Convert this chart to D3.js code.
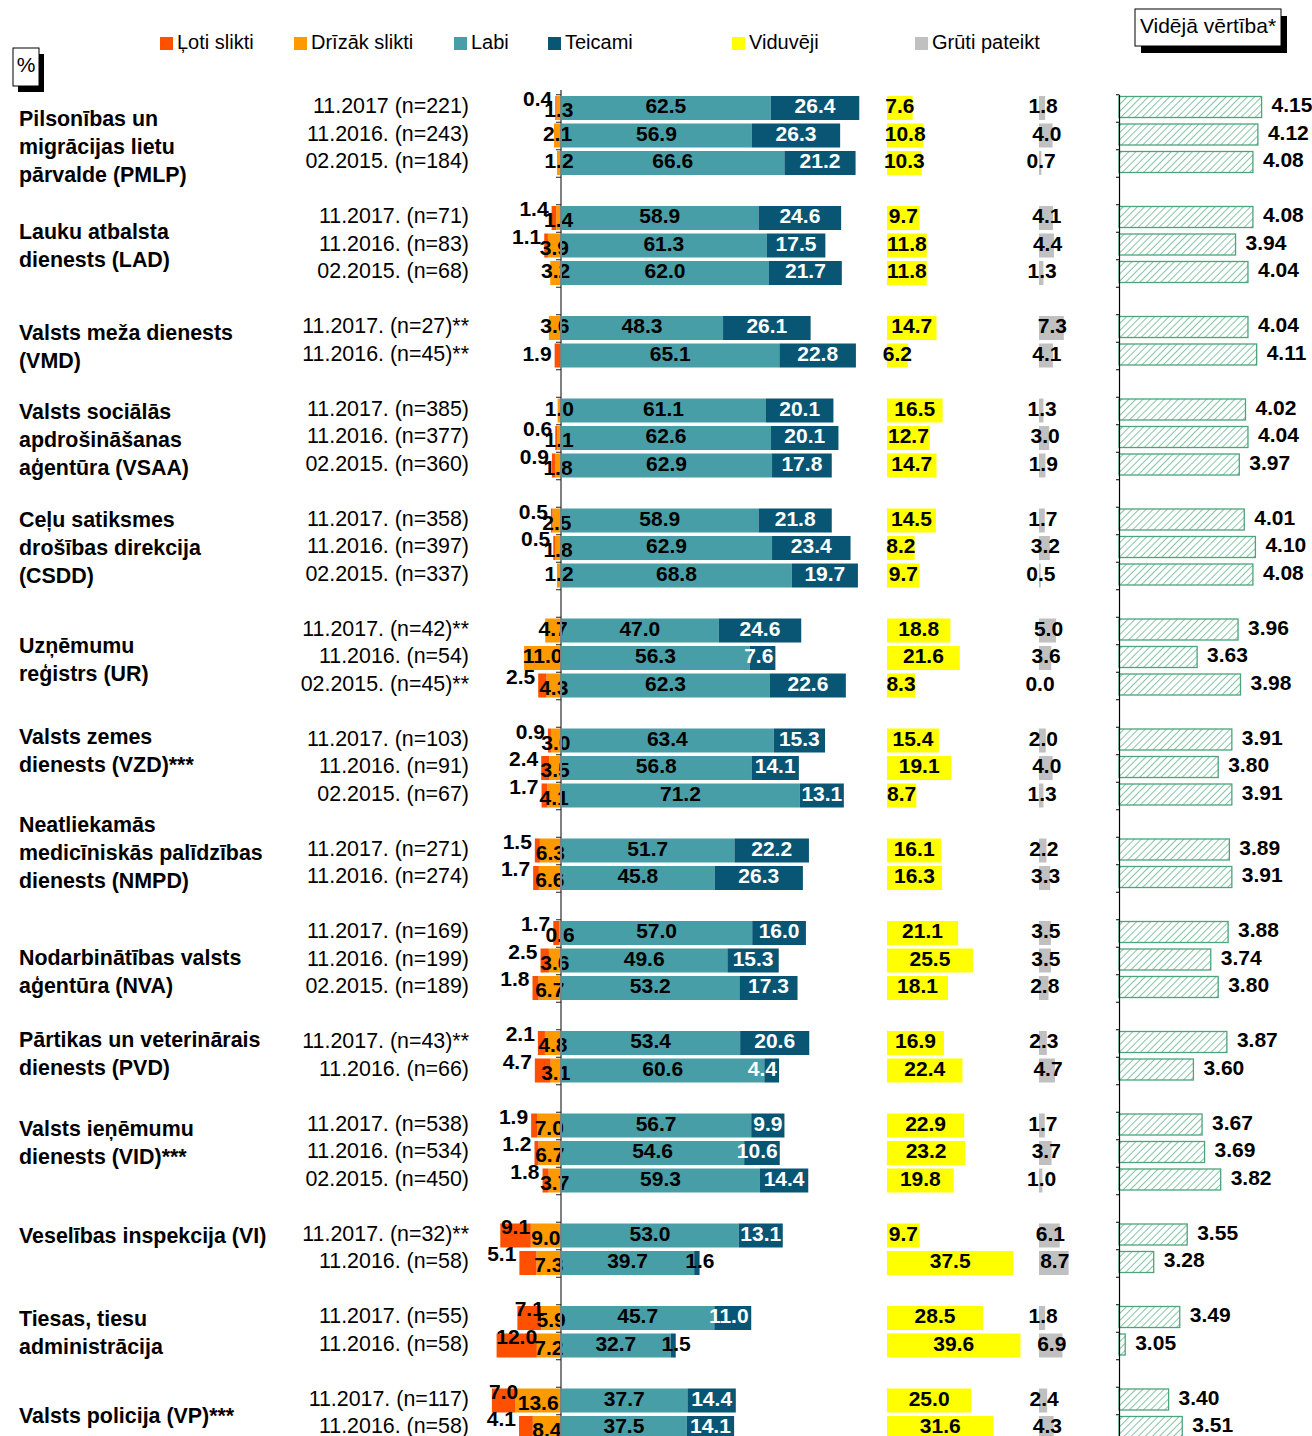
<!DOCTYPE html>
<html>
<head>
<meta charset="utf-8">
<script src="https://cdn.jsdelivr.net/npm/d3@7"></script>
<style>
  body { margin: 0; background: #fff; }
  text { font-family: Arial, "Liberation Sans", sans-serif; }
</style>
</head>
<body>
<div class="graphic"></div>
<script>
// ---- data ----
var groupNames = [
  ["Pilsonības un", "migrācijas lietu", "pārvalde (PMLP)"],
  ["Lauku atbalsta", "dienests (LAD)"],
  ["Valsts meža dienests", "(VMD)"],
  ["Valsts sociālās", "apdrošināšanas", "aģentūra (VSAA)"],
  ["Ceļu satiksmes", "drošības direkcija", "(CSDD)"],
  ["Uzņēmumu", "reģistrs (UR)"],
  ["Valsts zemes", "dienests (VZD)***"],
  ["Neatliekamās", "medicīniskās palīdzības", "dienests (NMPD)"],
  ["Nodarbinātības valsts", "aģentūra (NVA)"],
  ["Pārtikas un veterinārais", "dienests (PVD)"],
  ["Valsts ieņēmumu", "dienests (VID)***"],
  ["Veselības inspekcija (VI)"],
  ["Tiesas, tiesu", "administrācija"],
  ["Valsts policija (VP)***"]
];

var rowGroup = [0,0,0, 1,1,1, 2,2, 3,3,3, 4,4,4, 5,5,5, 6,6,6, 7,7, 8,8,8, 9,9, 10,10,10, 11,11, 12,12, 13,13];

var periods = [
  "11.2017 (n=221)", "11.2016. (n=243)", "02.2015. (n=184)",
  "11.2017. (n=71)", "11.2016. (n=83)", "02.2015. (n=68)",
  "11.2017. (n=27)**", "11.2016. (n=45)**",
  "11.2017. (n=385)", "11.2016. (n=377)", "02.2015. (n=360)",
  "11.2017. (n=358)", "11.2016. (n=397)", "02.2015. (n=337)",
  "11.2017. (n=42)**", "11.2016. (n=54)", "02.2015. (n=45)**",
  "11.2017. (n=103)", "11.2016. (n=91)", "02.2015. (n=67)",
  "11.2017. (n=271)", "11.2016. (n=274)",
  "11.2017. (n=169)", "11.2016. (n=199)", "02.2015. (n=189)",
  "11.2017. (n=43)**", "11.2016. (n=66)",
  "11.2017. (n=538)", "11.2016. (n=534)", "02.2015. (n=450)",
  "11.2017. (n=32)**", "11.2016. (n=58)",
  "11.2017. (n=55)", "11.2016. (n=58)",
  "11.2017. (n=117)", "11.2016. (n=58)"
];

var lotiSlikti   = [0.4,0,0, 1.4,1.1,0, 0,1.9, 0,0.6,0.9, 0.5,0.5,0, 0,0,2.5, 0.9,2.4,1.7, 1.5,1.7, 1.7,2.5,1.8, 2.1,4.7, 1.9,1.2,1.8, 9.1,5.1, 7.1,12.0, 7.0,4.1];
var drizakSlikti = [1.3,2.1,1.2, 1.4,3.9,3.2, 3.6,0, 1.0,1.1,1.8, 2.5,1.8,1.2, 4.7,11.0,4.3, 3.0,3.5,4.1, 6.3,6.6, 0.6,3.6,6.7, 4.8,3.1, 7.0,6.7,3.7, 9.0,7.3, 5.9,7.2, 13.6,8.4];
var labi         = [62.5,56.9,66.6, 58.9,61.3,62.0, 48.3,65.1, 61.1,62.6,62.9, 58.9,62.9,68.8, 47.0,56.3,62.3, 63.4,56.8,71.2, 51.7,45.8, 57.0,49.6,53.2, 53.4,60.6, 56.7,54.6,59.3, 53.0,39.7, 45.7,32.7, 37.7,37.5];
var teicami      = [26.4,26.3,21.2, 24.6,17.5,21.7, 26.1,22.8, 20.1,20.1,17.8, 21.8,23.4,19.7, 24.6,7.6,22.6, 15.3,14.1,13.1, 22.2,26.3, 16.0,15.3,17.3, 20.6,4.4, 9.9,10.6,14.4, 13.1,1.6, 11.0,1.5, 14.4,14.1];
var viduveji     = [7.6,10.8,10.3, 9.7,11.8,11.8, 14.7,6.2, 16.5,12.7,14.7, 14.5,8.2,9.7, 18.8,21.6,8.3, 15.4,19.1,8.7, 16.1,16.3, 21.1,25.5,18.1, 16.9,22.4, 22.9,23.2,19.8, 9.7,37.5, 28.5,39.6, 25.0,31.6];
var grutiPateikt = [1.8,4.0,0.7, 4.1,4.4,1.3, 7.3,4.1, 1.3,3.0,1.9, 1.7,3.2,0.5, 5.0,3.6,0.0, 2.0,4.0,1.3, 2.2,3.3, 3.5,3.5,2.8, 2.3,4.7, 1.7,3.7,1.0, 6.1,8.7, 1.8,6.9, 2.4,4.3];
var videjaVertiba = [4.15,4.12,4.08, 4.08,3.94,4.04, 4.04,4.11, 4.02,4.04,3.97, 4.01,4.10,4.08, 3.96,3.63,3.98, 3.91,3.80,3.91, 3.89,3.91, 3.88,3.74,3.80, 3.87,3.60, 3.67,3.69,3.82, 3.55,3.28, 3.49,3.05, 3.40,3.51];

var legendLabels = ["Ļoti slikti", "Drīzāk slikti", "Labi", "Teicami", "Viduvēji", "Grūti pateikt"];

// ---- layout / style ----
var colors = ["#ff5000", "#ff9900", "#489ea6", "#085674", "#ffff00", "#c0c0c0"];
var legendX = [160, 294, 454, 548, 732, 915];
var labelNudge = [11.5, 0, 5, 2, 0, 2, -17, -12, 11.5, -3, -10, -14, 1, 1];
var W = 1312, H = 1436;
var nSlots = rowGroup.length + groupNames.length - 1;

var svg = d3.select(".graphic").append("svg")
    .attr("width", W)
    .attr("height", H);

// hatch pattern for the mean bars
var pat = svg.append("defs").append("pattern")
    .attr("id", "hatch")
    .attr("patternUnits", "userSpaceOnUse")
    .attr("width", 5).attr("height", 5)
    .attr("patternTransform", "rotate(45)");
pat.append("rect").attr("width", 5).attr("height", 5).attr("fill", "#fff");
pat.append("line")
    .attr("x1", 0).attr("y1", 0).attr("x2", 0).attr("y2", 5)
    .attr("stroke", "#5cb287").attr("stroke-width", 1.5);

// scales
var y = d3.scaleBand()
    .domain(d3.range(nSlots))
    .range([94.25, 94.25 + nSlots * 27.5])
    .paddingInner(0.127)
    .paddingOuter(0.0635);
var yEdge = d3.scaleLinear().domain([0, nSlots]).range([94.25, 94.25 + nSlots * 27.5]);

var x = d3.scaleLinear().domain([-20, 90]).range([561 - 20 * 3.355, 561 + 90 * 3.355]);
var xMid = d3.scaleLinear().domain([0, 40]).range([887, 887 + 40 * 3.37]);
var xGrey = d3.scaleLinear().domain([0, 10]).range([1039, 1039 + 10 * 3.4]);
var xMean = d3.scaleLinear().domain([3, 4.2]).range([1119, 1119 + 1.2 * 124]);

var rows = periods.map(function(p, i) {
  return {
    i: i, slot: i + rowGroup[i], period: p,
    loti: lotiSlikti[i], drizak: drizakSlikti[i], labi: labi[i], teicami: teicami[i],
    vid: viduveji[i], gruti: grutiPateikt[i], mean: videjaVertiba[i]
  };
});

function fmt(v) { return v.toFixed(1); }
function textW(s) { return s.replace(/\./g, "").length * 11.7 + (s.split(".").length - 1) * 5.8; }
function cy(d) { return y(d.slot) + y.bandwidth() / 2; }

var bars = svg.append("g");
var labels = svg.append("g")
    .attr("font-weight", "bold")
    .attr("font-size", "21px");

rows.forEach(function(d) {
  var yc = cy(d), yt = y(d.slot), bh = y.bandwidth();
  var ty = yc - 2; // text sits slightly above the bar centre

  // negative side: drizak next to axis, loti further left
  var segs = [
    {x0: x(-d.drizak), x1: x(0), c: colors[1], v: d.drizak},
    {x0: x(-(d.drizak + d.loti)), x1: x(-d.drizak), c: colors[0], v: d.loti},
    {x0: x(0), x1: x(d.labi), c: colors[2], v: d.labi},
    {x0: x(d.labi), x1: x(d.labi + d.teicami), c: colors[3], v: d.teicami}
  ];
  segs.forEach(function(s) {
    if (s.v <= 0) return;
    bars.append("rect")
        .attr("x", s.x0).attr("y", yt)
        .attr("width", s.x1 - s.x0).attr("height", bh)
        .attr("fill", s.c);
  });

  // labi label
  labels.append("text")
      .attr("x", (segs[2].x0 + segs[2].x1) / 2).attr("y", ty).attr("dy", "0.35em")
      .attr("text-anchor", "middle").text(fmt(d.labi));

  // teicami label
  var tw = textW(fmt(d.teicami)), sw = segs[3].x1 - segs[3].x0;
  var t = labels.append("text").attr("y", ty).attr("dy", "0.35em").attr("text-anchor", "middle").text(fmt(d.teicami));
  if (sw >= tw) t.attr("x", (segs[3].x0 + segs[3].x1) / 2).attr("fill", "#fff");
  else if (d.teicami < 3) t.attr("x", (segs[3].x0 + segs[3].x1) / 2 + 3).attr("fill", "#000");
  else t.attr("x", segs[3].x1 - tw / 2 - 2).attr("fill", "#fff");

  // drizak label
  if (d.drizak > 0) {
    labels.append("text")
        .attr("x", (segs[0].x0 + segs[0].x1) / 2)
        .attr("y", ty + (d.loti > 0 ? 4 : 0)).attr("dy", "0.35em")
        .attr("text-anchor", "middle").text(fmt(d.drizak));
  }
  // loti label
  if (d.loti > 0) {
    var lw = textW(fmt(d.loti)), lsw = segs[1].x1 - segs[1].x0;
    var lt = labels.append("text")
        .attr("y", ty - (d.drizak > 0 ? 7 : 0)).attr("dy", "0.35em").text(fmt(d.loti));
    if (lsw >= lw * 0.75) lt.attr("x", (segs[1].x0 + segs[1].x1) / 2).attr("text-anchor", "middle");
    else lt.attr("x", segs[1].x0 - 3).attr("text-anchor", "end");
  }

  // viduveji
  bars.append("rect")
      .attr("x", xMid(0)).attr("y", yt)
      .attr("width", xMid(d.vid) - xMid(0)).attr("height", bh)
      .attr("fill", colors[4]);
  labels.append("text")
      .attr("x", (xMid(0) + xMid(d.vid)) / 2).attr("y", ty).attr("dy", "0.35em")
      .attr("text-anchor", "middle").text(fmt(d.vid));

  // gruti pateikt
  bars.append("rect")
      .attr("x", xGrey(0)).attr("y", yt)
      .attr("width", xGrey(d.gruti) - xGrey(0)).attr("height", bh)
      .attr("fill", colors[5]);
  labels.append("text")
      .attr("x", (xGrey(0) + xGrey(d.gruti)) / 2 + 1).attr("y", ty).attr("dy", "0.35em")
      .attr("text-anchor", "middle").text(fmt(d.gruti));

  // mean value (hatched)
  bars.append("rect")
      .attr("x", xMean(3)).attr("y", yt + 0.5)
      .attr("width", xMean(d.mean) - xMean(3)).attr("height", bh - 3)
      .attr("fill", "url(#hatch)")
      .attr("stroke", "#4aa57a").attr("stroke-width", 1.3);
  labels.append("text")
      .attr("x", xMean(d.mean) + 10).attr("y", ty - 1).attr("dy", "0.35em")
      .text(d.mean.toFixed(2));

  // period label
  svg.append("text")
      .attr("x", 469).attr("y", ty).attr("dy", "0.35em")
      .attr("text-anchor", "end")
      .attr("font-size", "21.4px")
      .text(d.period);
});

// axes (category boundaries as ticks)
var zeroAxis = svg.append("g")
    .attr("transform", "translate(" + x(0) + ",0)")
    .call(d3.axisLeft(yEdge).tickValues(d3.range(nSlots + 1)).tickSize(5).tickSizeOuter(0).tickFormat(""));
zeroAxis.select(".domain").attr("stroke", "#808080").attr("stroke-width", 2).attr("d", "M0,90V1436");
zeroAxis.selectAll(".tick line").attr("stroke", "#222");

var meanAxis = svg.append("g")
    .attr("transform", "translate(" + xMean(3) + ",0)")
    .call(d3.axisLeft(yEdge).tickValues(d3.range(nSlots + 1)).tickSize(3).tickSizeOuter(0).tickFormat(""));
meanAxis.select(".domain").attr("stroke", "#000").attr("stroke-width", 1.2);

// group labels
groupNames.forEach(function(lines, g) {
  var gr = rows.filter(function(r) { return rowGroup[r.i] === g; });
  var mid = (cy(gr[0]) + cy(gr[gr.length - 1])) / 2 + labelNudge[g];
  var txt = svg.append("text")
      .attr("x", 19)
      .attr("font-weight", "bold")
      .attr("font-size", "21.4px");
  lines.forEach(function(l, k) {
    txt.append("tspan")
        .attr("x", 19)
        .attr("y", mid + (k - (lines.length - 1) / 2) * 28)
        .attr("dy", "0.35em")
        .text(l);
  });
});

// legend
var leg = svg.append("g");
legendLabels.forEach(function(l, k) {
  leg.append("rect")
      .attr("x", legendX[k]).attr("y", 37)
      .attr("width", 13).attr("height", 13)
      .attr("fill", colors[k]);
  leg.append("text")
      .attr("x", legendX[k] + 17).attr("y", 42).attr("dy", "0.35em")
      .attr("font-size", "20px")
      .text(l);
});

// boxed notes
function note(x0, y0, w, h, sx, sy, label) {
  svg.append("rect").attr("x", x0 + sx).attr("y", y0 + sy).attr("width", w).attr("height", h).attr("fill", "#000");
  svg.append("rect").attr("x", x0).attr("y", y0).attr("width", w).attr("height", h)
      .attr("fill", "#fff").attr("stroke", "#000").attr("stroke-width", 1);
  svg.append("text").attr("x", x0 + w / 2).attr("y", y0 + h / 2 - 2).attr("dy", "0.35em")
      .attr("text-anchor", "middle").attr("font-size", "21px").text(label);
}
note(13, 48, 26, 38, 5, 6, "%");
note(1135, 9, 146, 37, 6, 7, "Vidējā vērtība*");
</script>
</body>
</html>
